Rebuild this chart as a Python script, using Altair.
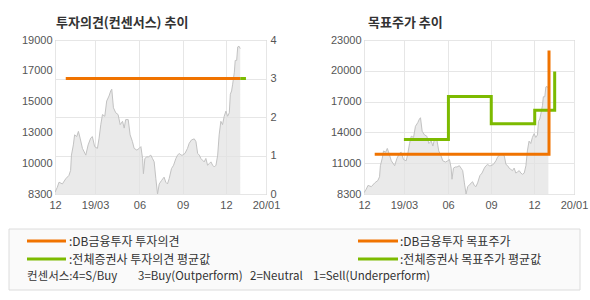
import json
import altair as alt
import pandas as pd

# ---------------- data ----------------
# closing price, x position as % of the time axis span
price_t = [0, 1.1, 1.9, 3.5, 5.1, 6.6, 7.4, 7.8, 8.7, 9.3, 10.3, 11.1, 11.9, 13.0, 14.6,
           15.7, 16.9, 17.7, 18.8, 20.1, 20.9, 21.7, 22.5, 23.6, 24.5, 25.6, 26.4, 26.9,
           27.7, 28.8, 29.9, 30.9, 32.0, 32.8, 33.5, 34.7, 35.6, 36.7, 37.5, 38.8, 39.9,
           40.7, 41.5, 41.9, 42.6, 43.5, 44.3, 45.4, 46.2, 47.0, 47.8, 48.6, 49.4, 50.5,
           51.7, 52.5, 53.3, 54.1, 55.2, 56.2, 57.3, 58.1, 58.9, 59.7, 60.4, 61.6, 62.8,
           63.6, 64.7, 66.0, 66.8, 67.6, 68.4, 69.1, 69.9, 70.7, 71.5, 72.3, 73.1, 73.9,
           74.7, 75.5, 76.3, 77.1, 77.8, 78.6, 79.4, 80.2, 81.0, 81.8, 82.6, 83.1, 83.7,
           84.2, 85.0, 85.4, 86.1, 86.6, 87.2, 87.8]
price_v = [8420, 8770, 9120, 9000, 9360, 9590, 9940, 11000, 11710, 12410, 12290, 12650,
           12180, 11470, 11000, 11710, 12180, 12290, 11590, 11470, 12180, 13120, 13820,
           13700, 14760, 15110, 15460, 15580, 14290, 13940, 13820, 13120, 13350, 12880,
           13470, 13470, 12410, 11940, 11470, 11350, 11470, 11590, 10770, 9710, 10770,
           10880, 10880, 11000, 10770, 10530, 9360, 8300, 9000, 9240, 9470, 9120, 9000,
           9360, 10060, 10300, 10770, 11000, 11120, 11000, 11000, 11120, 11470, 11820,
           12060, 12130, 11940, 11120, 11000, 10770, 10650, 10530, 10770, 10300, 10410,
           10530, 10300, 10180, 10300, 11000, 12410, 13350, 13120, 13700, 14060, 13700,
           13940, 15230, 15460, 15930, 16760, 17580, 17580, 18520, 18570, 18400]

x_tick_pos = [0, 19, 40, 60.5, 81, 100]
x_tick_lab = ["12", "19/03", "06", "09", "12", "20/01"]

left_y_ticks = [8300, 10440, 12580, 14720, 16860, 19000]
left_y_labels = ["8300", "10000", "13000", "15000", "17000", "19000"]
right_y_ticks = [8300, 11240, 14180, 17120, 20060, 23000]
right_y_labels = ["8300", "11000", "14000", "17000", "20000", "23000"]
opinion_ticks = [0, 1, 2, 3, 4]

# investment opinion (consensus)
op_db_t, op_db_v = [5.1, 87.8], [3, 3]
op_avg_t, op_avg_v = [87.8, 90.5], [3, 3]
# target price
tp_db_t, tp_db_v = [5.1, 88.1, 88.1], [12100, 12100, 22000]
tp_avg_t = [19.0, 40.2, 60.6, 81.3, 90.8, 90.8]
tp_avg_v = [13500, 17600, 15000, 16300, 16300, 20000]

title_left = "투자의견(컨센서스) 추이"
title_right = "목표주가 추이"
legend_db_op = ":DB금융투자 투자의견"
legend_avg_op = ":전체증권사 투자의견 평균값"
legend_db_tp = ":DB금융투자 목표주가"
legend_avg_tp = ":전체증권사 목표주가 평균값"
consensus_parts = ["컨센서스:4=S/Buy", "3=Buy(Outperform)", "2=Neutral", "1=Sell(Underperform)"]

# ---------------- styling ----------------
ORANGE = "#f07300"
GREEN = "#7cba00"
KFONT = "Noto Sans CJK KR"
NFONT = "Liberation Sans"

price_df = pd.DataFrame({"t": price_t, "p": price_v})
op_db_df = pd.DataFrame({"t": op_db_t, "v": op_db_v})
op_avg_df = pd.DataFrame({"t": op_avg_t, "v": op_avg_v})
tp_db_df = pd.DataFrame({"t": tp_db_t, "p": tp_db_v})
tp_avg_df = pd.DataFrame({"t": tp_avg_t, "p": tp_avg_v})


def lab_expr(vals, labs):
    return f"{json.dumps(labs)}[indexof({json.dumps(vals)}, datum.value)]"


x_axis = alt.Axis(values=x_tick_pos, labelExpr=lab_expr(x_tick_pos, x_tick_lab),
                  title=None, grid=True, ticks=False, domain=False,
                  labelPadding=5, labelFlush=False)
x_scale = alt.Scale(domain=[0, 100], nice=False, zero=False)


def xenc():
    return alt.X("t:Q", scale=x_scale, axis=x_axis, title=None)


area_style = dict(color="#e1e1e1", line={"color": "#c2c2c2", "strokeWidth": 1}, clip=True)

# ---- left panel ----
area_L = alt.Chart(price_df).mark_area(**area_style).encode(
    x=xenc(),
    y=alt.Y("p:Q", scale=alt.Scale(domain=[8300, 19000], nice=False, zero=False),
            axis=alt.Axis(values=left_y_ticks, labelExpr=lab_expr(left_y_ticks, left_y_labels),
                          title=None, grid=False, ticks=False, domain=False, labelPadding=3)),
)
op_axis = alt.Axis(orient="right", values=opinion_ticks, format="d", title=None,
                   grid=True, ticks=False, domain=False, labelPadding=4)
op_scale = alt.Scale(domain=[0, 4], nice=False)
op_db_line = alt.Chart(op_db_df).mark_line(color=ORANGE, strokeWidth=3).encode(
    x=xenc(), y=alt.Y("v:Q", scale=op_scale, axis=op_axis),
)
op_avg_line = alt.Chart(op_avg_df).mark_line(color=GREEN, strokeWidth=3).encode(
    x=xenc(), y=alt.Y("v:Q", scale=op_scale, axis=op_axis),
)
op_lines = alt.layer(op_db_line, op_avg_line)

# ---- legend box (drawn in pixel space relative to the left plot) ----
one = pd.DataFrame({"k": [0]})
base = alt.Chart(one)
LY = 189  # legend box top, relative to plot top
box = base.mark_rect(fill="#fafafa", stroke="#dcdcdc", strokeWidth=1).encode(
    x=alt.value(-46), x2=alt.value(525), y=alt.value(LY), y2=alt.value(LY + 61))


def leg_line(x1, x2, y, color):
    return base.mark_rule(color=color, strokeWidth=3).encode(
        x=alt.value(x1), x2=alt.value(x2), y=alt.value(LY + y))


def leg_text(x, y, s, size=12):
    return base.mark_text(align="left", baseline="middle", font=KFONT, fontSize=size,
                          color="#333333").encode(x=alt.value(x), y=alt.value(LY + y),
                                                  text=alt.value(s))


legend_layers = [
    box,
    leg_line(-28, 11, 12, ORANGE), leg_text(14, 13, legend_db_op),
    leg_line(-28, 11, 30, GREEN), leg_text(14, 31, legend_avg_op),
    leg_line(303, 343, 12, ORANGE), leg_text(345, 13, legend_db_tp),
    leg_line(303, 343, 30, GREEN), leg_text(345, 31, legend_avg_tp),
    leg_text(-28, 48, consensus_parts[0], 11.5),
    leg_text(83, 48, consensus_parts[1], 11.5),
    leg_text(195, 48, consensus_parts[2], 11.5),
    leg_text(258, 48, consensus_parts[3], 11.5),
]

left = alt.layer(area_L, op_lines, *legend_layers).resolve_scale(y="independent").properties(
    width=211, height=154,
    title=alt.TitleParams(title_left, anchor="start", frame="group", font=KFONT, fontSize=13,
                          fontWeight="bold", color="#333333", offset=4, dx=1),
)

# ---- right panel ----
r_axis = alt.Axis(values=right_y_ticks, labelExpr=lab_expr(right_y_ticks, right_y_labels),
                  title=None, grid=True, ticks=False, domain=False, labelPadding=3)
r_scale = alt.Scale(domain=[8300, 23000], nice=False, zero=False)
area_R = alt.Chart(price_df).mark_area(**area_style).encode(
    x=xenc(), y=alt.Y("p:Q", scale=r_scale, axis=r_axis),
)
tp_avg_line = alt.Chart(tp_avg_df).mark_line(color=GREEN, strokeWidth=3, interpolate="step-after").encode(
    x=xenc(), y=alt.Y("p:Q", scale=r_scale, axis=r_axis),
)
tp_db_line = alt.Chart(tp_db_df).mark_line(color=ORANGE, strokeWidth=3).encode(
    x=xenc(), y=alt.Y("p:Q", scale=r_scale, axis=r_axis),
)
right = alt.layer(area_R, tp_avg_line, tp_db_line).properties(
    width=210, height=154,
    title=alt.TitleParams(title_right, anchor="start", frame="group", font=KFONT, fontSize=13,
                          fontWeight="bold", color="#333333", offset=4, dx=4),
)

chart = alt.hconcat(left, right, spacing=98, bounds="flush").properties(
    padding={"left": 8, "top": 16, "right": 0, "bottom": 0},
    background="white",
).configure_view(stroke="#b5b5b5").configure_axis(
    labelColor="#555555", labelFont=NFONT, labelFontSize=11, gridColor="#e6e6e6",
)

chart.save("out.html", embed_options={"renderer": "svg", "actions": False})
